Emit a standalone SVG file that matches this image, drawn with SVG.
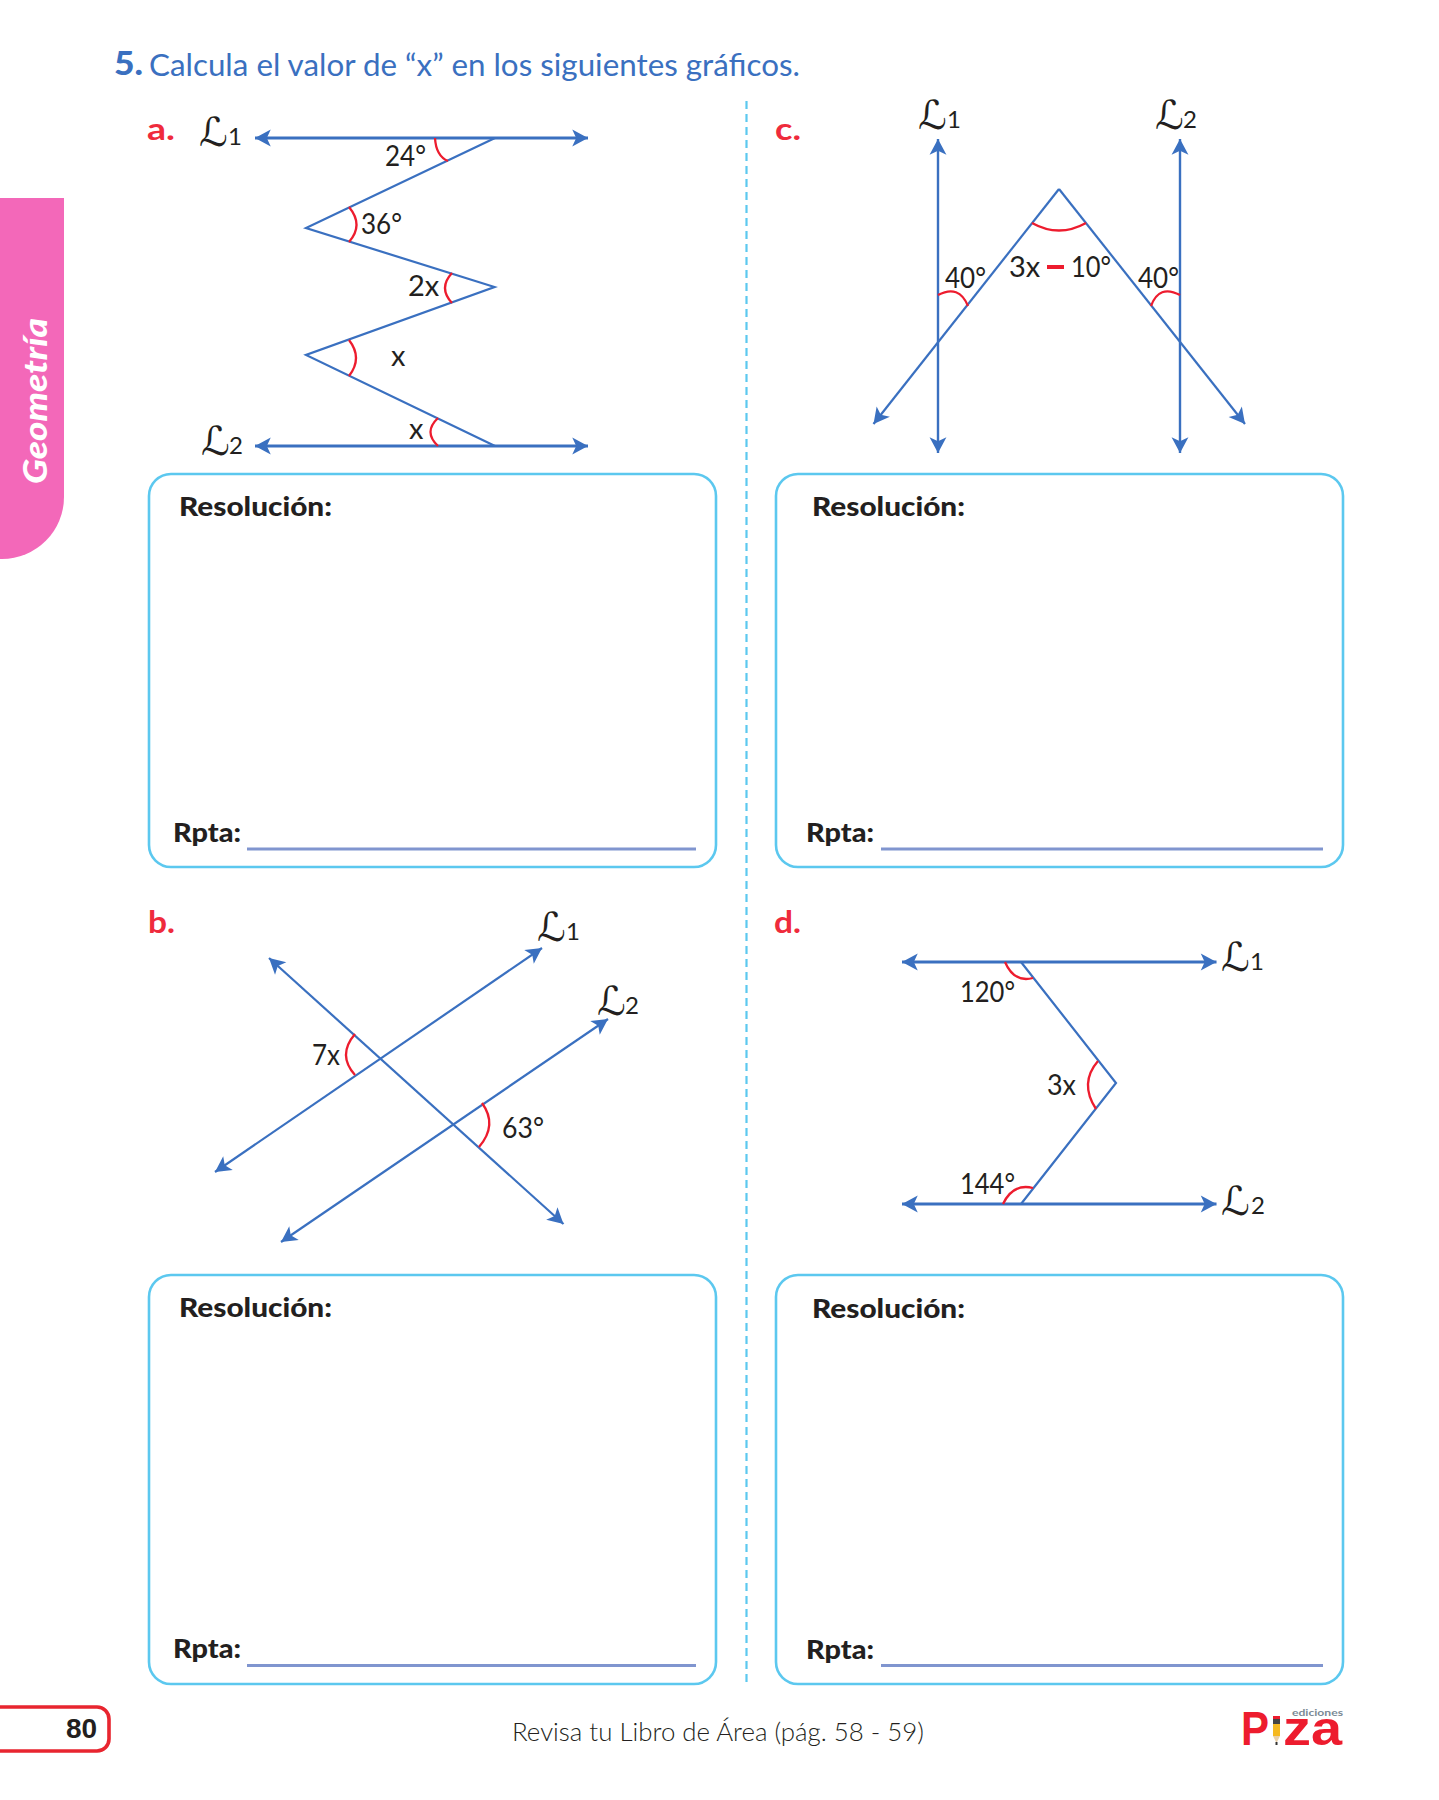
<svg xmlns="http://www.w3.org/2000/svg" width="1439" height="1800" viewBox="0 0 1439 1800">
<style>
text{font-family:"Lato","Open Sans","Liberation Sans",sans-serif;fill:#231f20}
.ln{fill:none;stroke:#3a70c0;stroke-width:2.2;stroke-linejoin:miter}
.hl{stroke-width:2.8}
.vl{stroke-width:2.4}
.ar{marker-start:url(#ah);marker-end:url(#ah)}
.rd{fill:none;stroke:#ed1c2e;stroke-width:2.3}
.box{fill:none;stroke:#5cc8ef;stroke-width:2.6}
.ul{stroke:#8095cf;stroke-width:2.8;fill:none}
.lab{font-size:29px;font-weight:400}
.sc{font-family:"DejaVu Serif","DejaVu Sans",serif;font-size:40px;font-style:italic;font-weight:300}
.nu{font-size:24px;font-weight:400}
.let{font-size:31px;font-weight:700;fill:#ef2b3c}
.res{font-size:27px;font-weight:900;font-family:"Lato","Liberation Sans",sans-serif}
.lg{fill:#ed1c2e;font-family:"Liberation Sans",sans-serif;font-weight:700}
</style>
<defs>
<marker id="ah" markerUnits="userSpaceOnUse" markerWidth="18" markerHeight="18" viewBox="0 -8 15 16" refX="14" refY="0" orient="auto-start-reverse"><path d="M0,-7.5 L14,0 L0,7.5 L3.5,0 Z" fill="#3a70c0"/></marker>
</defs>
<rect width="1439" height="1800" fill="#fff"/>

<g id="tab"><path d="M0,198 H64 V497 A62,62 0 0 1 2,559 H0 Z" fill="#f368b9"/>
<text transform="translate(47,484) rotate(-90)" font-size="33" font-weight="900" font-style="italic" style="fill:#fff" textLength="166" lengthAdjust="spacingAndGlyphs">Geometría</text></g>

<g id="title"><text x="114" y="75" font-size="32" font-weight="900" style="fill:#3a70c0" textLength="29" lengthAdjust="spacingAndGlyphs">5.</text>
<text x="149" y="76" font-size="30" style="fill:#3a70c0" textLength="651" lengthAdjust="spacingAndGlyphs">Calcula el valor de “x” en los siguientes gráficos.</text></g>

<line id="divider" x1="746.5" y1="101" x2="746.5" y2="1686" stroke="#5cc8ef" stroke-width="2.2" stroke-dasharray="8 5"/>

<g id="panel-a">
<text class="let" x="147" y="140" textLength="28" lengthAdjust="spacingAndGlyphs">a.</text>
<text class="sc" x="199" y="146">ℒ</text><text class="nu" x="228" y="145">1</text>
<text class="sc" x="201" y="455">ℒ</text><text class="nu" x="229" y="454">2</text>
<g id="conn-a">
<line class="ln hl ar" x1="255" y1="138" x2="588" y2="138"/>
<line class="ln hl ar" x1="255" y1="446" x2="588" y2="446"/>
<polyline class="ln" points="495,138 306,228 494.5,287 306,355 495,446"/>
<path class="rd" d="M435,138 Q436,156 448,161"/>
<path class="rd" d="M349,207 Q364,225 349,242"/>
<path class="rd" d="M452,273 Q438,288 452,303"/>
<path class="rd" d="M349,340 Q363,358 349,376"/>
<path class="rd" d="M438,418 Q423,432 438,446"/>
</g>
<text class="lab" x="385" y="166" textLength="41" lengthAdjust="spacingAndGlyphs">24°</text>
<text class="lab" x="361" y="234" textLength="41" lengthAdjust="spacingAndGlyphs">36°</text>
<text class="lab" x="408" y="296">2x</text>
<text class="lab" x="391" y="366">x</text>
<text class="lab" x="409" y="439">x</text>
</g>

<g id="panel-c">
<text class="let" x="775" y="140" textLength="26" lengthAdjust="spacingAndGlyphs">c.</text>
<text class="sc" x="918" y="129">ℒ</text><text class="nu" x="947" y="128">1</text>
<text class="sc" x="1155" y="129">ℒ</text><text class="nu" x="1183" y="128">2</text>
<g id="conn-c">
<line class="ln vl ar" x1="940" y1="139" x2="940" y2="453" transform="translate(-2 0)"/>
<line class="ln vl ar" x1="1182" y1="139" x2="1182" y2="453" transform="translate(-2 0)"/>
<line class="ln" x1="1059" y1="189" x2="873.5" y2="424" marker-end="url(#ah)"/>
<line class="ln" x1="1059" y1="189" x2="1245" y2="424" marker-end="url(#ah)"/>
<path class="rd" d="M1032,223 Q1059,238 1086,223"/>
<path class="rd" d="M938,295 Q959,284 968,306"/>
<path class="rd" d="M1180,295 Q1159,284 1151,306"/>
</g>
<text class="lab" x="945" y="288" textLength="41" lengthAdjust="spacingAndGlyphs">40°</text>
<text class="lab" x="1009" y="277">3x</text>
<rect x="1047" y="265" width="17" height="4" fill="#ed1c2e"/>
<text class="lab" x="1071" y="277" textLength="40" lengthAdjust="spacingAndGlyphs">10°</text>
<text class="lab" x="1138" y="288" textLength="41" lengthAdjust="spacingAndGlyphs">40°</text>
</g>

<g id="panel-b">
<text class="let" x="148" y="933" textLength="27" lengthAdjust="spacingAndGlyphs">b.</text>
<text class="sc" x="537" y="941">ℒ</text><text class="nu" x="566" y="940">1</text>
<text class="sc" x="597" y="1015">ℒ</text><text class="nu" x="625" y="1014">2</text>
<g id="conn-b">
<line class="ln ar" x1="215" y1="1172" x2="542" y2="948"/>
<line class="ln ar" x1="281" y1="1242" x2="608" y2="1019"/>
<line class="ln ar" x1="269" y1="958" x2="563.5" y2="1224"/>
<path class="rd" d="M355,1034 Q337,1055 355,1075"/>
<path class="rd" d="M482,1103 Q498,1125 479,1147"/>
</g>
<text class="lab" x="312" y="1065" textLength="28" lengthAdjust="spacingAndGlyphs">7x</text>
<text class="lab" x="502" y="1138" textLength="42" lengthAdjust="spacingAndGlyphs">63°</text>
</g>

<g id="panel-d">
<text class="let" x="774" y="933" textLength="27" lengthAdjust="spacingAndGlyphs">d.</text>
<text class="sc" x="1221" y="971">ℒ</text><text class="nu" x="1250" y="970">1</text>
<text class="sc" x="1221" y="1215">ℒ</text><text class="nu" x="1251" y="1214">2</text>
<g id="conn-d">
<line class="ln hl ar" x1="902" y1="962" x2="1216.5" y2="962"/>
<line class="ln hl ar" x1="902" y1="1204" x2="1216.5" y2="1204"/>
<polyline class="ln" points="1021,962 1116,1083 1021,1204"/>
<path class="rd" d="M1005,962 Q1014,983 1033,978"/>
<path class="rd" d="M1098,1061 Q1079,1083 1096,1109"/>
<path class="rd" d="M1003,1204 Q1013,1183 1033,1188"/>
</g>
<text class="lab" x="960" y="1002" textLength="55" lengthAdjust="spacingAndGlyphs">120°</text>
<text class="lab" x="1047" y="1095" textLength="29" lengthAdjust="spacingAndGlyphs">3x</text>
<text class="lab" x="960" y="1194" textLength="55" lengthAdjust="spacingAndGlyphs">144°</text>
</g>

<g id="box-a"><rect class="box" x="149" y="474" width="567" height="393" rx="22"/>
<text class="res" x="179" y="516" textLength="153" lengthAdjust="spacingAndGlyphs">Resolución:</text><text class="res" x="173" y="842" textLength="68" lengthAdjust="spacingAndGlyphs">Rpta:</text><line class="ul" x1="247" y1="849" x2="696" y2="849"/></g>
<g id="box-c"><rect class="box" x="776" y="474" width="567" height="393" rx="22"/>
<text class="res" x="812" y="516" textLength="153" lengthAdjust="spacingAndGlyphs">Resolución:</text><text class="res" x="806" y="842" textLength="68" lengthAdjust="spacingAndGlyphs">Rpta:</text><line class="ul" x1="881" y1="849" x2="1323" y2="849"/></g>
<g id="box-b"><rect class="box" x="149" y="1275" width="567" height="409" rx="22"/>
<text class="res" x="179" y="1317" textLength="153" lengthAdjust="spacingAndGlyphs">Resolución:</text><text class="res" x="173" y="1658" textLength="68" lengthAdjust="spacingAndGlyphs">Rpta:</text><line class="ul" x1="247" y1="1665.5" x2="696" y2="1665.5"/></g>
<g id="box-d"><rect class="box" x="776" y="1275" width="567" height="409" rx="22"/>
<text class="res" x="812" y="1318" textLength="153" lengthAdjust="spacingAndGlyphs">Resolución:</text><text class="res" x="806" y="1659" textLength="68" lengthAdjust="spacingAndGlyphs">Rpta:</text><line class="ul" x1="881" y1="1665.5" x2="1323" y2="1665.5"/></g>

<g id="footer">
<path d="M0,1707 H97 A12,12 0 0 1 109,1719 V1739 A12,12 0 0 1 97,1751 H0" fill="none" stroke="#e8252f" stroke-width="3.6"/>
<text x="66" y="1738" font-size="28" font-weight="700" style="font-family:'Liberation Sans',sans-serif">80</text>
<text x="512" y="1741" font-size="25" font-weight="300" textLength="412" lengthAdjust="spacingAndGlyphs">Revisa tu Libro de Área (pág. 58 - 59)</text>
</g>

<g id="logo">
<text class="lg" x="1241" y="1745" font-size="48" textLength="28" lengthAdjust="spacingAndGlyphs">P</text>
<rect x="1273" y="1716" width="7" height="3" fill="#ed1c2e"/>
<rect x="1273" y="1719" width="7" height="5" fill="#444"/>
<rect x="1273" y="1724" width="7" height="12" fill="#f5b81f"/>
<path d="M1273,1736 H1280 L1276.5,1743 Z" fill="#e9cfa8"/>
<rect x="1275.5" y="1742" width="2" height="3" fill="#333"/>
<text class="lg" x="1283" y="1745" font-size="48" textLength="59" lengthAdjust="spacingAndGlyphs">za</text>
<text x="1292" y="1716" font-size="9.5" font-weight="700" style="fill:#7b8a95" textLength="51" lengthAdjust="spacingAndGlyphs">ediciones</text>
</g>
</svg>
